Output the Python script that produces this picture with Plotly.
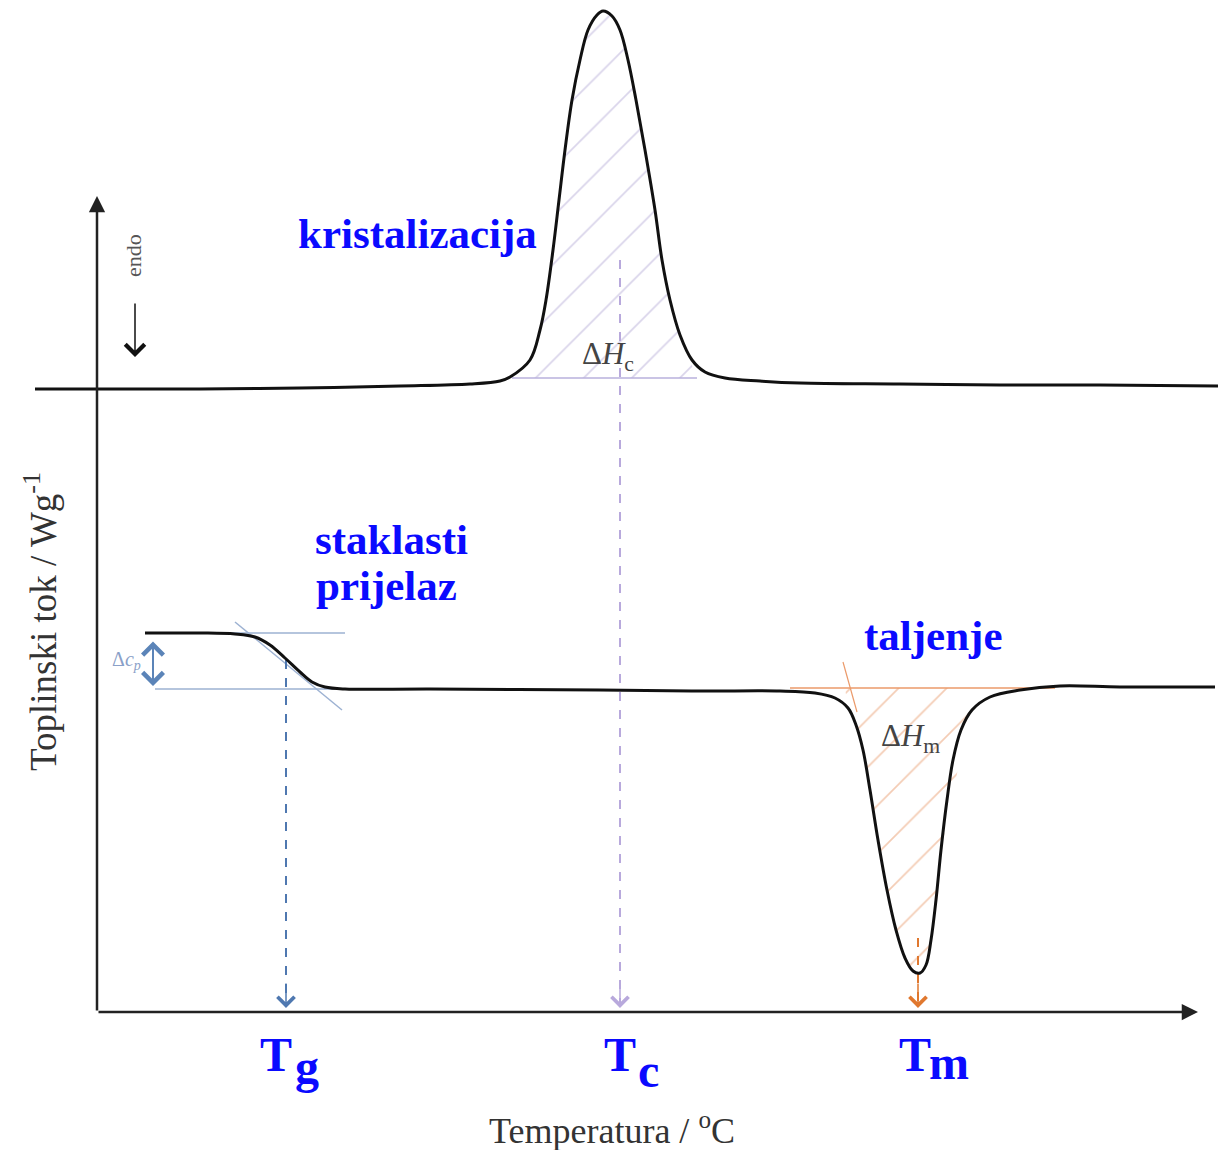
import plotly.graph_objects as go

# canvas coordinates (y grows downward)
W, H = 1223, 1150

# upper trace: crystallisation (exothermic peak)
cryst_x = [35, 100, 200, 300, 400, 470, 500, 510, 530, 540, 546, 553, 559, 565, 572, 580, 588, 597, 603,
           612, 620, 628, 636, 645, 655, 662, 670, 680, 692, 705, 725, 760, 800, 900, 1000, 1100, 1218]
cryst_y = [389, 389, 389, 388, 386, 384, 381, 377, 360, 330, 300, 250, 200, 150, 100, 60, 30, 15, 11,
           16, 30, 60, 100, 150, 210, 260, 300, 335, 360, 372, 378, 381, 383, 384, 385, 385, 386]

# lower trace: glass transition + melting (endothermic dip)
low_x = [145, 200, 235, 255, 270, 285, 300, 312, 325, 345, 430, 600, 700, 780, 815, 835, 848, 856, 863,
         870, 878, 887, 896, 905, 913, 920, 926, 931, 936, 941, 947, 953, 961, 972, 990, 1020, 1060, 1120, 1215]
low_y = [633, 633, 634, 637, 645, 658, 672, 682, 687, 689, 689, 690, 691, 691, 693, 698, 708, 725, 750,
         790, 840, 890, 930, 958, 971, 973, 965, 940, 900, 850, 800, 760, 730, 710, 697, 690, 686, 687, 687]

# hatched areas
hc_x = [512, 530, 540, 546, 553, 559, 565, 572, 580, 588, 597, 603, 612, 620, 628, 636, 645, 655, 662,
        670, 680, 697, 512]
hc_y = [378, 360, 330, 300, 250, 200, 150, 100, 60, 30, 15, 11, 16, 30, 60, 100, 150, 210, 260,
        300, 335, 378, 378]
hm_x = [845, 848, 856, 863, 870, 878, 887, 896, 905, 913, 920, 926, 931, 936, 941, 975, 845]
hm_y = [688, 708, 725, 750, 790, 840, 890, 930, 958, 971, 973, 965, 940, 900, 850, 688, 688]

# characteristic temperatures
t_names = ["g", "c", "m"]
t_x = [286, 620, 918]
t_top = [660, 260, 938]
t_col = ["#4f78b0", "#b8a9dc", "#e0782f"]

# label placement for T_g, T_c, T_m (right edge of "T", left edge of index, index drop)
t_label_right = [293, 637, 932]
t_index_left = [294, 637, 928]
t_index_drop = [12, 16, 8]

axis_x0, axis_y0 = 97, 1012
BLUE = "#0a0aff"
SERIF = "Liberation Serif"

fig = go.Figure()

# hatching
fig.add_trace(go.Scatter(x=hc_x, y=hc_y, mode="lines", line=dict(width=0), fill="toself",
                         fillcolor="rgba(0,0,0,0)",
                         fillpattern=dict(shape="/", fgcolor="#b3aad6", size=34, solidity=0.05)))
fig.add_trace(go.Scatter(x=hm_x, y=hm_y, mode="lines", line=dict(width=0), fill="toself",
                         fillcolor="rgba(0,0,0,0)",
                         fillpattern=dict(shape="/", fgcolor="#e89a6a", size=34, solidity=0.05)))

# construction lines
fig.add_trace(go.Scatter(x=[512, 697], y=[378, 378], mode="lines", line=dict(color="#b8b0dc", width=1.5)))
fig.add_trace(go.Scatter(x=[790, 1055], y=[688, 688], mode="lines", line=dict(color="#eb9a6a", width=1.5)))
fig.add_trace(go.Scatter(x=[843, 857], y=[662, 712], mode="lines", line=dict(color="#eb9a6a", width=1.2)))
fig.add_trace(go.Scatter(x=[150, 345], y=[633, 633], mode="lines", line=dict(color="#9db2d2", width=1.5)))
fig.add_trace(go.Scatter(x=[155, 335], y=[689, 689], mode="lines", line=dict(color="#9db2d2", width=1.5)))
fig.add_trace(go.Scatter(x=[235, 342], y=[622, 710], mode="lines", line=dict(color="#9db2d2", width=1.5)))

# dashed drop lines to the temperature axis
for x, top, c in zip(t_x, t_top, t_col):
    fig.add_trace(go.Scatter(x=[x, x], y=[top, axis_y0 - 6], mode="lines",
                             line=dict(color=c, width=2, dash="dash")))
    fig.add_annotation(x=x, y=axis_y0 - 4, ax=x, ay=axis_y0 - 30, xref="x", yref="y", axref="x", ayref="y",
                       showarrow=True, arrowhead=4, arrowsize=2.2, arrowwidth=1.5, arrowcolor=c, text="")

# DSC traces
fig.add_trace(go.Scatter(x=cryst_x, y=cryst_y, mode="lines", line=dict(color="#111", width=3, shape="spline")))
fig.add_trace(go.Scatter(x=low_x, y=low_y, mode="lines", line=dict(color="#111", width=3, shape="spline")))

# axes with arrows
fig.add_annotation(x=1198, y=axis_y0, ax=axis_x0, ay=axis_y0, xref="x", yref="y", axref="x", ayref="y",
                   showarrow=True, arrowhead=2, arrowsize=1.3, arrowwidth=2.5, arrowcolor="#222", text="")
fig.add_annotation(x=axis_x0, y=196, ax=axis_x0, ay=axis_y0, xref="x", yref="y", axref="x", ayref="y",
                   showarrow=True, arrowhead=2, arrowsize=1.3, arrowwidth=2.5, arrowcolor="#222", text="")

# endo arrow
fig.add_annotation(x=135, y=357, ax=135, ay=302, xref="x", yref="y", axref="x", ayref="y",
                   showarrow=True, arrowhead=4, arrowsize=2.5, arrowwidth=1.5, arrowcolor="#111", text="")
fig.add_annotation(x=133, y=256, text="endo", textangle=-90, showarrow=False,
                   font=dict(family=SERIF, size=22, color="#555"))

# delta cp double arrow
fig.add_annotation(x=153, y=686, ax=153, ay=640, xref="x", yref="y", axref="x", ayref="y",
                   showarrow=True, arrowhead=4, startarrowhead=4, arrowside="end+start",
                   arrowsize=2, startarrowsize=2, arrowwidth=2, arrowcolor="#5b84b8", text="")
fig.add_annotation(x=126, y=660, text="Δ<i>c<sub>p</sub></i>", showarrow=False,
                   font=dict(family=SERIF, size=20, color="#8aa0c8"))

# enthalpy labels
fig.add_annotation(x=608, y=356, text="Δ<i>H</i><sub>c</sub>", showarrow=False,
                   font=dict(family=SERIF, size=31, color="#444"))
fig.add_annotation(x=910, y=738, text="Δ<i>H</i><sub>m</sub>", showarrow=False,
                   font=dict(family=SERIF, size=31, color="#444"))

# region labels
for txt, x, y in [("kristalizacija", 417, 233), ("staklasti", 391, 539), ("prijelaz", 386, 585),
                  ("taljenje", 933, 635)]:
    fig.add_annotation(x=x, y=y, text="<b>" + txt + "</b>", showarrow=False,
                       font=dict(family=SERIF, size=43, color=BLUE))

# temperature labels: "T" plus a same-size, lowered index letter
label_y = 1054
for name, xr, xl, drop in zip(t_names, t_label_right, t_index_left, t_index_drop):
    fig.add_annotation(x=xr, y=label_y, text="<b>T</b>", showarrow=False, xanchor="right",
                       borderpad=0, font=dict(family=SERIF, size=48, color=BLUE))
    fig.add_annotation(x=xl, y=label_y + drop, text="<b>" + name + "</b>", showarrow=False, xanchor="left",
                       borderpad=0, font=dict(family=SERIF, size=48, color=BLUE))

# axis titles
fig.add_annotation(x=612, y=1128, text="Temperatura / <sup>o</sup>C", showarrow=False,
                   font=dict(family=SERIF, size=36, color="#333"))
fig.add_annotation(x=40, y=622, text="Toplinski tok / Wg<sup>-1</sup>", textangle=-90, showarrow=False,
                   font=dict(family=SERIF, size=37, color="#333"))

fig.update_layout(
    width=W, height=H,
    margin=dict(l=0, r=0, t=0, b=0),
    paper_bgcolor="white", plot_bgcolor="white",
    showlegend=False,
    xaxis=dict(range=[0, W], visible=False, fixedrange=True),
    yaxis=dict(range=[H, 0], visible=False, fixedrange=True),
)

# drop the default page margin so the canvas lines up with the window
fig.write_html("out.html", config={"displayModeBar": False},
               post_script="document.body.style.margin='0px';")
